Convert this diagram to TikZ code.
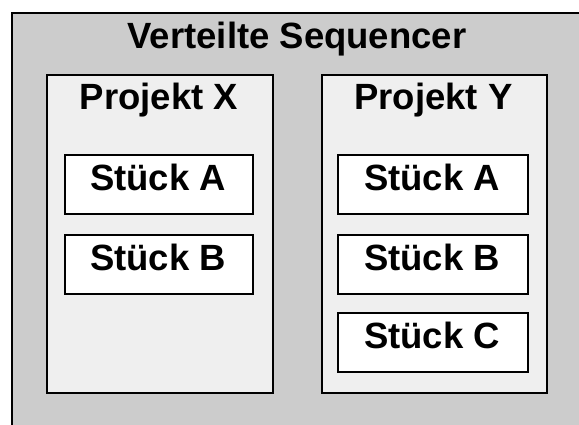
\documentclass[tikz,border=0pt]{standalone}
\usepackage{fontspec}
\setmainfont{Liberation Sans}
\definecolor{outergrey}{HTML}{CCCCCC}
\definecolor{innergrey}{HTML}{EFEFEF}
\tikzset{
  frame/.style={draw=black, line width=2pt, anchor=north west, inner sep=0pt},
  outerbox/.style={frame, fill=outergrey},
  projbox/.style={frame, fill=innergrey, minimum height=318pt},
  stueck/.style={frame, fill=white, minimum height=59pt},
  lbl/.style={anchor=base, inner sep=0pt, font=\bfseries\fontsize{36.5}{40}\selectfont}
}
\begin{document}
\begin{tikzpicture}[x=1pt,y=-1pt]
\useasboundingbox (0,0) rectangle (579,424);
\clip (0,0) rectangle (579,424);
\fill[white] (0,0) rectangle (579,424);
\node[outerbox, minimum width=600pt, minimum height=440pt] (outer) at (11,12) {};
\node[lbl] (title) at (297,48) {Verteilte Sequencer};
% Projekt X
\node[projbox, minimum width=226pt] (px) at (46,74) {};
\node[lbl] (pxl) at (159,109) {Projekt X};
\node[stueck, minimum width=188pt] (pxa) at (64,154) {};
\node[lbl] at (158,190) {Stück A};
\node[stueck, minimum width=188pt] (pxb) at (64,234) {};
\node[lbl] at (158,270) {Stück B};
% Projekt Y
\node[projbox, minimum width=225pt] (py) at (321,74) {};
\node[lbl] (pyl) at (433.5,109) {Projekt Y};
\node[stueck, minimum width=190pt] (pya) at (337,154) {};
\node[lbl] at (432,190) {Stück A};
\node[stueck, minimum width=190pt] (pyb) at (337,234) {};
\node[lbl] at (432,270) {Stück B};
\node[stueck, minimum width=190pt] (pyc) at (337,312) {};
\node[lbl] at (432,348) {Stück C};
\end{tikzpicture}
\end{document}
